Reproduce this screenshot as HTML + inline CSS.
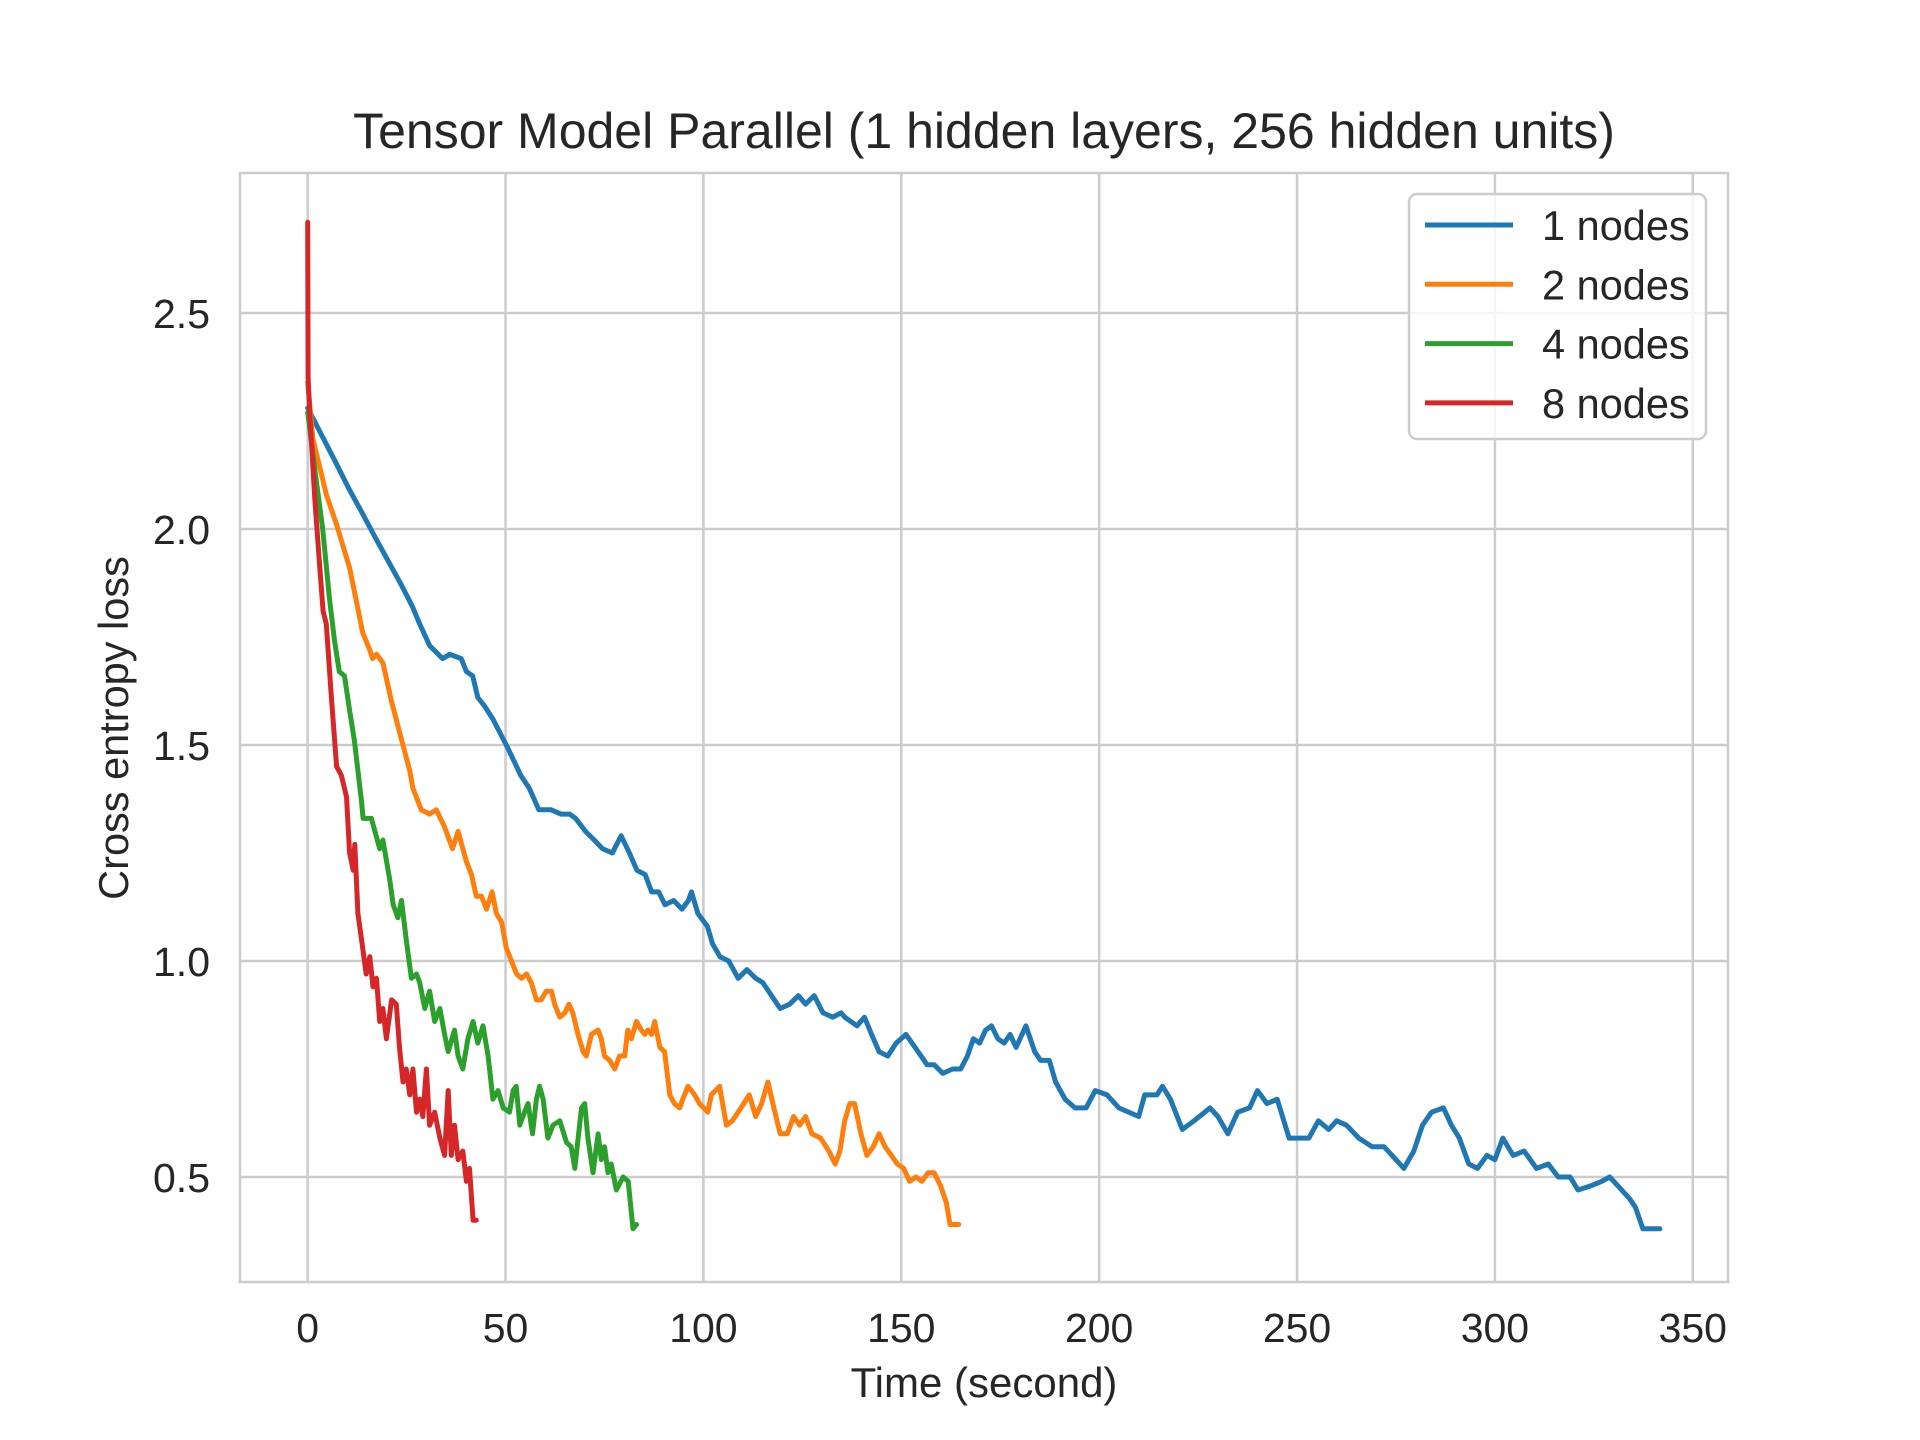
<!DOCTYPE html>
<html><head><meta charset="utf-8"><style>
html,body{margin:0;padding:0;background:#fff;}
svg{display:block;font-family:"Liberation Sans","DejaVu Sans",sans-serif;}
</style></head><body>
<svg id="chart" width="1920" height="1440" viewBox="0 0 1920 1440" xmlns="http://www.w3.org/2000/svg">
<rect width="1920" height="1440" fill="#fff"/>
<g id="grid"></g>
<rect x="240" y="173" width="1488" height="1109" fill="none" stroke="#cccccc" stroke-width="2.5"/>
<g id="series"></g>
<g id="ticks" fill="#262626" font-size="41"></g>
<text x="984" y="148" text-anchor="middle" font-size="50" fill="#262626">Tensor Model Parallel (1 hidden layers, 256 hidden units)</text>
<text x="984" y="1397" text-anchor="middle" font-size="42" fill="#262626">Time (second)</text>
<text x="0" y="0" transform="translate(128,728) rotate(-90)" text-anchor="middle" font-size="41.5" fill="#262626">Cross entropy loss</text>
<g id="legend">
<rect x="1409" y="194" width="297" height="245" rx="8" fill="#fff" fill-opacity="0.8" stroke="#cccccc" stroke-width="2.5"/>
</g>
</svg>
<script>
const xTicks = [0,50,100,150,200,250,300,350];
const yTicks = [0.5,1.0,1.5,2.0,2.5];
const yTickLabels = ["0.5","1.0","1.5","2.0","2.5"];
const seriesNames = ["1 nodes","2 nodes","4 nodes","8 nodes"];
const seriesColors = ["#1f77b4","#ff7f0e","#2ca02c","#d62728"];

const t1 = [0,7.3,10.6,13.6,17.7,23.7,26.5,28.3,30.8,34.1,35.9,38.8,40.1,41.7,43,44.7,46.8,50.2,52.3,53.8,56,58.4,60,61.5,64,66.2,67.7,70.2,72.4,74.5,77,79.2,81.3,83.2,85.3,86.9,88.7,90.3,92.5,94.6,96.2,97,98.6,101,102.3,104.2,106.4,108.8,111,113.2,115,117.2,119.4,121.8,124,125.8,128,130.2,132.7,134.8,135.7,138.8,140.7,142.5,144.4,146.6,148.7,151.2,152.7,155,156.5,158.3,160.5,163,165,166.7,168.2,169.8,171.3,172.8,174.4,176,177.5,179,181.5,183.7,185.2,187.4,189,191.4,193.9,196.7,199,202,205,210,211.5,214.6,216,218,221,224,228,230,232.5,235,238,240,242.4,245,248,251,253,255.4,258,260,262.5,265.6,269,272,275,277,279.5,281.7,284,287,289,291,293.4,295.6,298,300,302,304.6,307.4,310.5,313.5,316,319,321,324.4,327,329,331,334,335.5,337.4,340,341.7];
const v1 = [2.28,2.15,2.09,2.04,1.97,1.87,1.82,1.78,1.73,1.70,1.71,1.70,1.67,1.66,1.61,1.59,1.56,1.50,1.46,1.43,1.40,1.35,1.35,1.35,1.34,1.34,1.33,1.30,1.28,1.26,1.25,1.29,1.25,1.21,1.20,1.16,1.16,1.13,1.14,1.12,1.14,1.16,1.11,1.08,1.04,1.01,1.00,0.96,0.98,0.96,0.95,0.92,0.89,0.90,0.92,0.90,0.92,0.88,0.87,0.88,0.87,0.85,0.87,0.83,0.79,0.78,0.81,0.83,0.81,0.78,0.76,0.76,0.74,0.75,0.75,0.78,0.82,0.81,0.84,0.85,0.82,0.81,0.83,0.80,0.85,0.79,0.77,0.77,0.72,0.68,0.66,0.66,0.70,0.69,0.66,0.64,0.69,0.69,0.71,0.68,0.61,0.63,0.66,0.64,0.60,0.65,0.66,0.70,0.67,0.68,0.59,0.59,0.59,0.63,0.61,0.63,0.62,0.59,0.57,0.57,0.54,0.52,0.56,0.62,0.65,0.66,0.62,0.59,0.53,0.52,0.55,0.54,0.59,0.55,0.56,0.52,0.53,0.50,0.50,0.47,0.48,0.49,0.50,0.48,0.45,0.43,0.38,0.38,0.38];

const t2 = [0,1.3,4.7,7.3,10.6,12.6,13.9,15.7,16.4,17.4,19,20,21.2,23.2,25.8,26.6,28.7,30.8,32.5,34.6,36.6,38,40.1,41.4,42.6,43.9,45.2,46.6,47.7,49,50.2,51.5,52.8,54,55.3,56.5,57.8,59,60.3,61.6,62.4,63.7,65,66,67,68.3,69.6,70.4,71.7,73.4,74.2,75,76.3,77.6,78.8,80.1,80.9,81.8,83.1,84.3,85.2,86,86.9,87.7,89,90.2,91.5,92.7,94,94.8,96.1,97.8,99,101.1,102,104.1,105.8,107.3,109.5,111.6,113.2,114.7,116.3,117.8,119.4,121.2,122.8,124.3,125.8,127.4,129.6,131.7,133.3,134.5,135.7,137,138.2,139.8,141.3,142.9,144.4,145.9,147.5,149,150.6,152.1,153.7,155.2,156.8,158.3,159.9,161.4,162.3,164.5];
const v2 = [2.34,2.21,2.08,2.01,1.91,1.82,1.76,1.72,1.70,1.71,1.69,1.65,1.60,1.53,1.44,1.40,1.35,1.34,1.35,1.31,1.26,1.30,1.23,1.20,1.15,1.15,1.12,1.16,1.11,1.09,1.03,1.00,0.97,0.96,0.97,0.95,0.91,0.91,0.93,0.93,0.90,0.87,0.88,0.90,0.88,0.83,0.79,0.78,0.83,0.84,0.82,0.78,0.77,0.75,0.78,0.78,0.84,0.82,0.86,0.84,0.83,0.84,0.83,0.86,0.80,0.79,0.69,0.67,0.66,0.68,0.71,0.69,0.67,0.65,0.69,0.71,0.62,0.63,0.66,0.69,0.64,0.67,0.72,0.66,0.60,0.60,0.64,0.62,0.64,0.60,0.59,0.56,0.53,0.56,0.63,0.67,0.67,0.60,0.55,0.57,0.60,0.57,0.55,0.53,0.52,0.49,0.50,0.49,0.51,0.51,0.48,0.44,0.39,0.39];

const t4 = [0,2.2,3.8,5.5,6.8,8,9.3,10.6,11.8,13.6,14,16.1,18.2,19,20.7,21.6,22.8,23.7,24.9,26.2,27.5,28.3,29.6,30.8,32.1,33.4,34.6,35.5,37.1,38,39.2,40.5,41.8,43,44.3,45.6,46.8,48.1,49.4,51,51.9,52.7,53.6,54.8,55.7,56.8,57.8,58.6,59.5,60.7,62,63.7,65.4,66.6,67.5,69.2,70,70.8,72.1,73.4,74.2,75,75.9,76.7,78,79.7,81,82.2,83.1];
const v4 = [2.27,2.11,2.00,1.84,1.74,1.67,1.66,1.58,1.51,1.37,1.33,1.33,1.26,1.28,1.19,1.13,1.10,1.14,1.05,0.96,0.97,0.95,0.89,0.93,0.86,0.89,0.83,0.79,0.84,0.78,0.75,0.82,0.86,0.81,0.85,0.78,0.68,0.70,0.66,0.65,0.70,0.71,0.62,0.65,0.67,0.60,0.68,0.71,0.68,0.59,0.62,0.63,0.58,0.57,0.52,0.66,0.67,0.59,0.51,0.60,0.54,0.57,0.51,0.53,0.47,0.50,0.49,0.38,0.39];

const t8 = [0,0.1,0.5,1.8,3,3.9,4.7,6,7.3,8.5,9.8,10.6,11.5,11.9,12.7,13.6,14.8,15.7,16.5,17.4,18.2,19,19.9,21.2,22.4,23.2,24.1,24.9,25.8,26.6,27.5,28.3,29.1,30,30.8,32.1,33.4,34.6,35.5,36.3,37.1,38,39.2,40.1,40.9,41.8,42.6];
const v8 = [2.71,2.35,2.27,2.07,1.92,1.81,1.78,1.61,1.45,1.43,1.38,1.25,1.21,1.27,1.11,1.05,0.97,1.01,0.94,0.96,0.86,0.89,0.82,0.91,0.90,0.80,0.72,0.75,0.69,0.75,0.65,0.68,0.64,0.75,0.62,0.65,0.59,0.55,0.70,0.55,0.62,0.54,0.56,0.49,0.52,0.40,0.40];

const NS = "http://www.w3.org/2000/svg";
const X0 = 240, X1 = 1728, Y0 = 173, Y1 = 1282;
const xMin = -17.1, xMax = 358.9;
function xPix(t){ return X0 + (t - xMin) / (xMax - xMin) * (X1 - X0); }
function yPix(v){ return 1177 - (v - 0.5) * 432; }

const grid = document.getElementById('grid');
const ticks = document.getElementById('ticks');
xTicks.forEach(function(t){
  const l = document.createElementNS(NS,'line');
  l.setAttribute('x1', xPix(t)); l.setAttribute('x2', xPix(t));
  l.setAttribute('y1', Y0); l.setAttribute('y2', Y1);
  l.setAttribute('stroke','#cccccc'); l.setAttribute('stroke-width','2.5');
  
  
  grid.appendChild(l);
  const tx = document.createElementNS(NS,'text');
  tx.setAttribute('x', xPix(t)); tx.setAttribute('y', 1342);
  tx.setAttribute('text-anchor','middle');
  tx.textContent = String(t);
  
  
  ticks.appendChild(tx);
});
yTicks.forEach(function(v,i){
  const l = document.createElementNS(NS,'line');
  l.setAttribute('x1', X0); l.setAttribute('x2', X1);
  l.setAttribute('y1', yPix(v)); l.setAttribute('y2', yPix(v));
  l.setAttribute('stroke','#cccccc'); l.setAttribute('stroke-width','2.5');
  
  
  grid.appendChild(l);
  const tx = document.createElementNS(NS,'text');
  tx.setAttribute('x', 210); tx.setAttribute('y', yPix(v) + 15);
  tx.setAttribute('text-anchor','end');
  tx.textContent = yTickLabels[i];
  
  
  ticks.appendChild(tx);
});

const seriesT = [t1,t2,t4,t8];
const seriesV = [v1,v2,v4,v8];
const sg = document.getElementById('series');
const seriesIds = ['series-1-nodes','series-2-nodes','series-4-nodes','series-8-nodes'];
seriesT.forEach(function(ts,k){
  const vs = seriesV[k];
  let d = '';
  for (let i = 0; i < ts.length; i++) {
    d += (i ? 'L' : 'M') + xPix(ts[i]).toFixed(1) + ' ' + yPix(vs[i]).toFixed(1);
  }
  const p = document.createElementNS(NS,'path');
  p.setAttribute('d', d);
  p.setAttribute('fill','none');
  p.setAttribute('stroke', seriesColors[k]);
  p.setAttribute('stroke-width','5');
  p.setAttribute('stroke-linejoin','round');
  p.setAttribute('stroke-linecap','round');
  
  
  sg.appendChild(p);
});

const lg = document.getElementById('legend');
seriesNames.forEach(function(n,k){
  const y = 225 + k * 59.3;
  const l = document.createElementNS(NS,'line');
  l.setAttribute('x1', 1425); l.setAttribute('x2', 1513);
  l.setAttribute('y1', y); l.setAttribute('y2', y);
  l.setAttribute('stroke', seriesColors[k]); l.setAttribute('stroke-width','5');
  
  
  lg.appendChild(l);
  const tx = document.createElementNS(NS,'text');
  tx.setAttribute('x', 1542); tx.setAttribute('y', y + 15);
  tx.setAttribute('font-size','41.5'); tx.setAttribute('fill','#262626');
  tx.textContent = n;
  
  
  lg.appendChild(tx);
});
</script>
</body></html>
